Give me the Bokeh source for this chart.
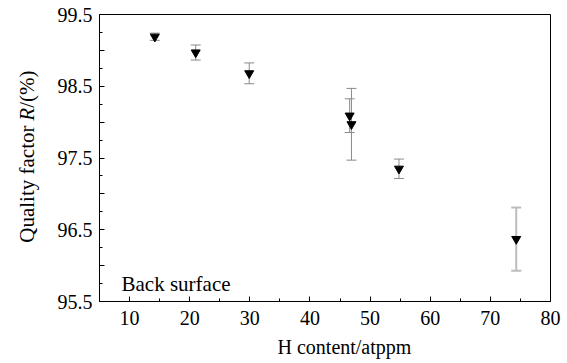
import math
from bokeh.plotting import figure
from bokeh.layouts import row
from bokeh.models import ColumnDataSource, Whisker, TeeHead, Label, FixedTicker, Title, Range1d
from bokeh.core.properties import value
from bokeh.embed import file_html
from bokeh.resources import INLINE

# ---- data ----
h_content = [14.2, 21.0, 29.9, 46.6, 46.9, 54.8, 74.3]
quality_r = [99.19, 98.97, 98.68, 98.09, 97.97, 97.35, 96.37]
r_error = [0.05, 0.105, 0.145, 0.235, 0.50, 0.135, 0.44]
x_ticks = [10, 20, 30, 40, 50, 60, 70, 80]
x_minor = [15, 25, 35, 45, 55, 65, 75]
y_ticks = [95.5, 96.0, 96.5, 97.0, 97.5, 98.0, 98.5, 99.0, 99.5]
y_minor = [95.75, 96.25, 96.75, 97.25, 97.75, 98.25, 98.75, 99.25]
y_labelled = [95.5, 96.5, 97.5, 98.5, 99.5]
x_title = "H content/atppm"
y_title_parts = ["Quality factor ", "R", "/(%)"]
y_title_styles = ["normal", "italic", "normal"]

# ---- layout ----
W, H = 567, 363
YW = 42                      # width of the strip holding the y-axis title
LEFT, RIGHT, TOP, BOTTOM = 99, 550, 14, 302
X0, X1, Y0, Y1 = 5, 80, 95.5, 99.5
FONT = "Liberation Serif"

def dx(cx):
    return X0 + (cx - LEFT) * (X1 - X0) / (RIGHT - LEFT)

def dy(cy):
    return Y1 - (cy - TOP) * (Y1 - Y0) / (BOTTOM - TOP)

p = figure(width=W - YW, height=H, output_backend="svg", toolbar_location=None,
           x_range=(X0, X1), y_range=(Y0, Y1),
           min_border_left=LEFT - YW, min_border_right=W - RIGHT,
           min_border_top=TOP, min_border_bottom=H - BOTTOM)
p.background_fill_color = "white"
p.border_fill_color = "white"
p.grid.visible = False
p.outline_line_color = "black"
p.outline_line_width = 1

for axs in (p.xaxis, p.yaxis):
    axs.major_label_text_font = FONT
    axs.major_label_text_font_style = "normal"
    axs.major_label_text_font_size = "20px"
    axs.major_label_text_color = "black"
    axs.axis_line_color = "black"
    axs.major_tick_line_color = "black"
    axs.minor_tick_line_color = "black"
    axs.major_tick_in = 5
    axs.major_tick_out = 0
    axs.minor_tick_in = 3
    axs.minor_tick_out = 0

p.xaxis.ticker = FixedTicker(ticks=x_ticks, minor_ticks=x_minor)
p.xaxis.major_label_standoff = 9
p.yaxis.ticker = FixedTicker(ticks=y_ticks, minor_ticks=y_minor)
p.yaxis.major_label_standoff = 7
p.yaxis.major_label_overrides = {t: (f"{t:.1f}" if t in y_labelled else "") for t in y_ticks}

# error bars
main_idx = list(range(len(h_content) - 1))
light_idx = [len(h_content) - 1]
for idx, col, lw in ((main_idx, "#8a8a8a", 1), (light_idx, "#bdbdbd", 2)):
    src = ColumnDataSource(dict(
        x=[h_content[i] for i in idx],
        upper=[quality_r[i] + r_error[i] for i in idx],
        lower=[quality_r[i] - r_error[i] for i in idx]))
    p.add_layout(Whisker(source=src, base="x", upper="upper", lower="lower",
                         dimension="height", line_color=col, line_width=lw,
                         upper_head=TeeHead(size=10, line_color=col, line_width=lw),
                         lower_head=TeeHead(size=10, line_color=col, line_width=lw)))

p.scatter(h_content, quality_r, marker="inverted_triangle", size=9,
          fill_color="black", line_color="black")

p.add_layout(Label(x=dx(121), y=dy(284), text="Back surface", text_font=FONT,
                   text_font_size="21px", text_color="black",
                   text_align="left", text_baseline="alphabetic"))

# x axis title
p.add_layout(Title(text=x_title, align="left", offset=277 - LEFT, text_font=FONT,
                   text_font_size="20px", text_font_style="normal",
                   text_color="black", standoff=12), "below")

# y axis title strip (italic R needs separate pieces).
# Its frame is aligned with the main frame (TOP..BOTTOM), so the y range is in
# canvas pixels measured from the bottom of the page.
ys = figure(width=YW, height=H, output_backend="svg", toolbar_location=None,
            x_range=Range1d(0, YW), y_range=Range1d(H - BOTTOM, H - TOP),
            x_axis_type=None, y_axis_type=None,
            min_border_left=0, min_border_right=0, min_border_top=TOP,
            min_border_bottom=H - BOTTOM)
ys.grid.visible = False
ys.outline_line_color = None
ys.background_fill_color = "white"
ys.border_fill_color = "white"

fs = 21
em_widths = [5.832, 0.611, 1.777]   # Times metrics of the pieces, in em
starts = []
cy = 243
for em in em_widths:
    starts.append(H - cy)
    cy -= em * fs
ys.text(x=[26] * 3, y=starts, text=y_title_parts, angle=math.pi / 2,
        text_font=value(FONT), text_font_size=value(f"{fs}px"),
        text_font_style=y_title_styles, text_color="black",
        text_align="left", text_baseline="alphabetic")

layout = row(ys, p, spacing=0)
open("out.html", "w").write(file_html(layout, INLINE))
